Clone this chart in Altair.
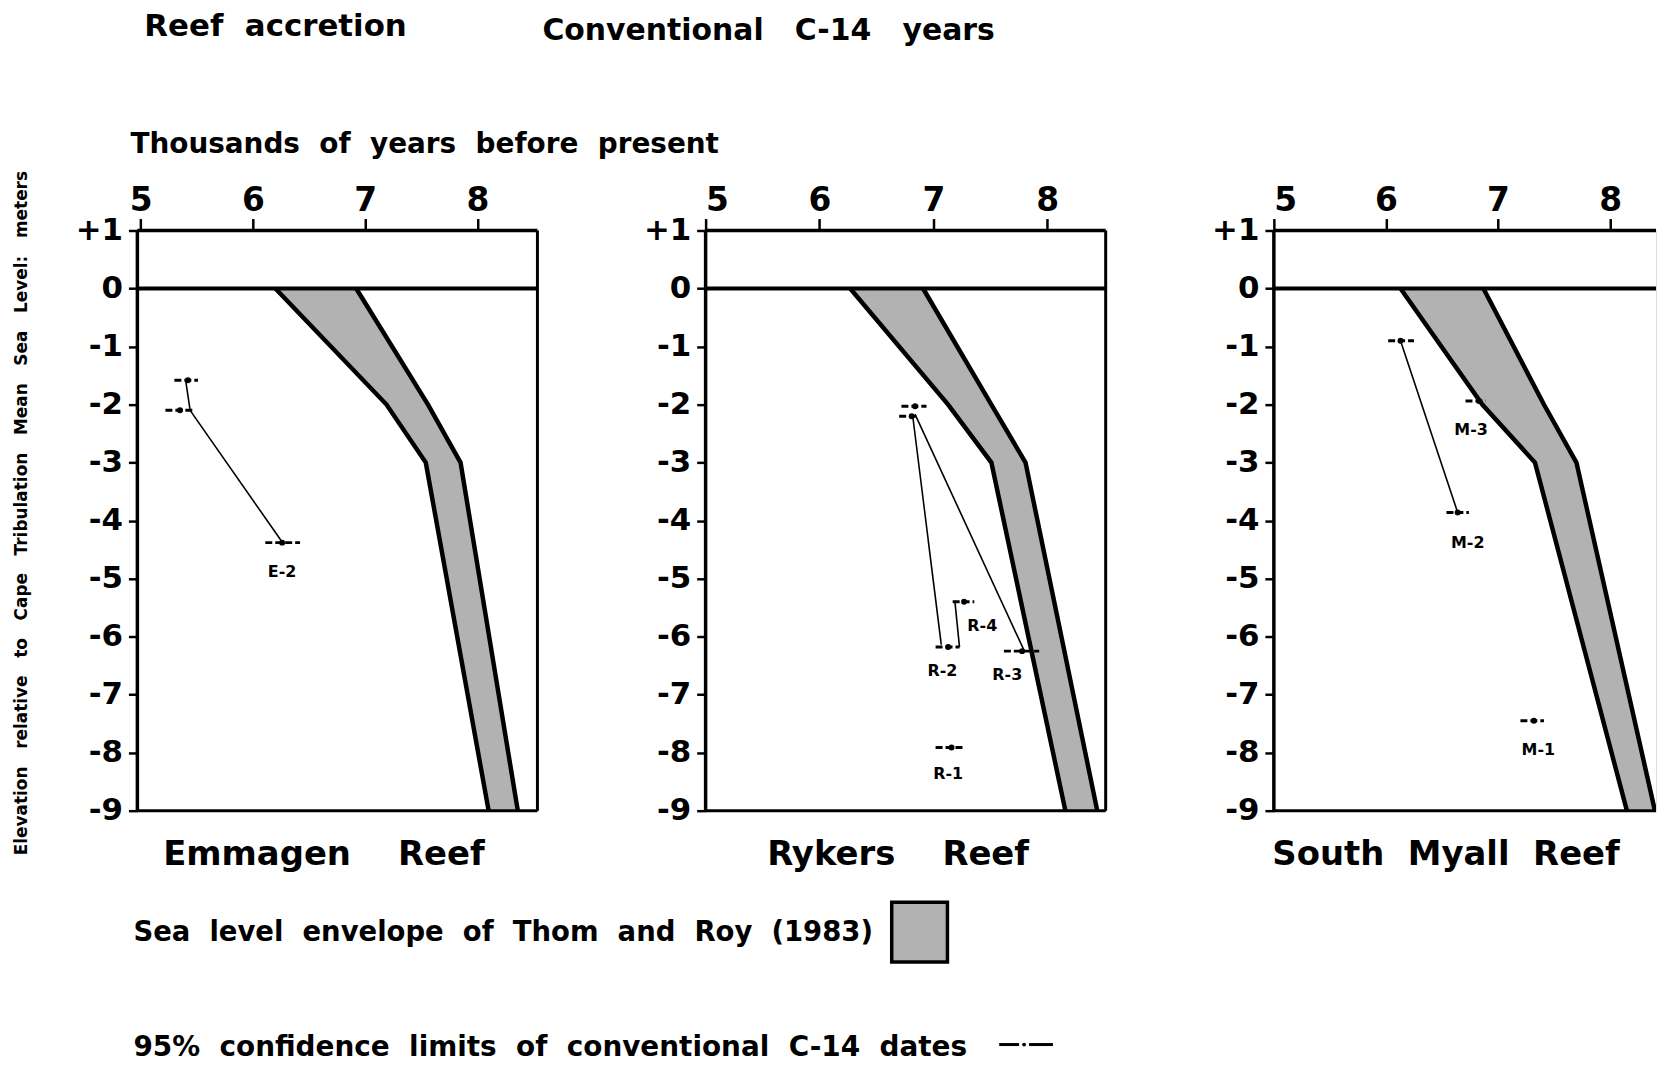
import altair as alt
import pandas as pd

FONT = "DejaVu Sans"
NB = "\u00a0"

# ---------------- data ----------------
x_ticks = [5, 6, 7, 8]
y_ticks = [1, 0, -1, -2, -3, -4, -5, -6, -7, -8, -9]

# Sea level envelope of Thom and Roy (1983), as drawn in each panel
env_depth = [0, -2, -3, -9]
env_left_E = [6.20, 7.19, 7.54, 8.10]
env_right_E = [6.92, 7.56, 7.85, 8.36]
env_left_R = [6.27, 7.13, 7.51, 8.16]
env_right_R = [6.91, 7.51, 7.81, 8.44]
env_left_M = [6.13, 6.86, 7.33, 8.15]
env_right_M = [6.87, 7.41, 7.70, 8.40]

# C-14 dates: 95% limits (lo, hi), central age, elevation (m)
E_lo = [5.30, 5.22, 6.11]
E_hi = [5.51, 5.47, 6.42]
E_mid = [5.42, 5.35, 6.26]
E_elev = [-1.58, -2.10, -4.38]

R_lo = [6.72, 6.70, 7.02, 7.17, 7.62, 7.02]
R_hi = [6.94, 6.86, 7.23, 7.36, 7.93, 7.26]
R_mid = [6.84, 6.81, 7.13, 7.27, 7.78, 7.16]
R_elev = [-2.03, -2.20, -6.18, -5.40, -6.25, -7.91]

M_lo = [6.02, 6.54, 6.71, 7.20]
M_hi = [6.25, 6.74, 6.89, 7.41]
M_mid = [6.13, 6.64, 6.83, 7.32]
M_elev = [-0.90, -3.86, -1.94, -7.45]

# connecting lines (x1, y1, x2, y2)
E_seg_x1 = [5.40, 5.44]
E_seg_y1 = [-1.58, -2.10]
E_seg_x2 = [5.44, 6.26]
E_seg_y2 = [-2.10, -4.37]

R_seg_x1 = [6.82, 7.23, 6.84]
R_seg_y1 = [-2.21, -6.18, -2.17]
R_seg_x2 = [7.07, 7.19, 7.80]
R_seg_y2 = [-6.14, -5.40, -6.25]

M_seg_x1 = [6.13]
M_seg_y1 = [-0.90]
M_seg_x2 = [6.64]
M_seg_y2 = [-3.86]

# sample labels
E_lab = ["E-2"]
E_lab_x = [6.26]
E_lab_y = [-4.89]
R_lab = ["R-2", "R-3", "R-4", "R-1"]
R_lab_x = [7.08, 7.65, 7.43, 7.13]
R_lab_y = [-6.60, -6.67, -5.82, -8.37]
M_lab = ["M-3", "M-2", "M-1"]
M_lab_x = [6.76, 6.73, 7.36]
M_lab_y = [-2.44, -4.39, -7.95]

panel_names = ["Emmagen" + NB * 4 + "Reef", "Rykers" + NB * 4 + "Reef", "South" + NB + " Myall" + NB + " Reef"]

ENV_FILL = "#b2b2b2"
PLOT_H = 583


def one():
    return alt.Data(values=[{"k": 1}])


def text_mark(txt, x, y, size, align="left", angle=0, baseline="alphabetic"):
    props = dict(text=txt, font=FONT, fontWeight="bold", fontSize=size, align=align,
                 baseline=baseline, color="black")
    if angle:
        props["angle"] = angle
    return alt.Chart(one()).mark_text(**props).encode(x=alt.value(x), y=alt.value(y))


def panel(env_l, env_r, lo, hi, mid, elev, sx1, sy1, sx2, sy2, lab, labx, laby,
          xdom, width, name, name_x, right_border=True, extra=None):
    xs = alt.Scale(domain=xdom, nice=False, zero=False)
    ys = alt.Scale(domain=[-9, 1], nice=False, zero=False)
    xaxis = alt.Axis(orient="top", values=x_ticks, tickSize=12, tickWidth=2.5, tickColor="black",
                     labelFontSize=33, labelFont=FONT, labelFontWeight="bold", labelColor="black",
                     labelPadding=1, domain=False, grid=False, title=None)
    yaxis = alt.Axis(values=y_ticks,
                     labelExpr="datum.value > 0 ? '+' + datum.value : (datum.value < 0 ? '-' + abs(datum.value) : '0')",
                     tickSize=9, tickWidth=2.5, tickColor="black", labelFontSize=31, labelFont=FONT,
                     labelFontWeight="bold", labelColor="black", labelPadding=6, domain=False,
                     grid=False, title=None)

    def X(field, **kw):
        return alt.X(field, scale=xs, axis=xaxis, **kw)

    def Y(field, **kw):
        return alt.Y(field, scale=ys, axis=yaxis, **kw)

    env = pd.DataFrame({"depth": env_depth, "xl": env_l, "xr": env_r})
    area = alt.Chart(env).mark_area(orient="horizontal", color=ENV_FILL, clip=True).encode(
        y=Y("depth:Q"), x=X("xl:Q"), x2="xr:Q")
    edge_l = alt.Chart(env).mark_line(color="black", strokeWidth=4.5, clip=True).encode(
        x=X("xl:Q"), y=Y("depth:Q"), order=alt.Order("depth:Q"))
    edge_r = alt.Chart(env).mark_line(color="black", strokeWidth=4.5, clip=True).encode(
        x=X("xr:Q"), y=Y("depth:Q"), order=alt.Order("depth:Q"))

    frame = [
        alt.Chart(one()).mark_rule(color="black", strokeWidth=3.5).encode(y=alt.Y(datum=1, scale=ys, axis=yaxis)),
        alt.Chart(one()).mark_rule(color="black", strokeWidth=4).encode(y=alt.Y(datum=0, scale=ys, axis=yaxis)),
        alt.Chart(one()).mark_rule(color="black", strokeWidth=3).encode(y=alt.Y(datum=-9, scale=ys, axis=yaxis)),
        alt.Chart(one()).mark_rule(color="black", strokeWidth=3.5).encode(
            x=alt.X(datum=xdom[0], scale=xs, axis=xaxis)),
    ]
    if right_border:
        frame.append(alt.Chart(one()).mark_rule(color="black", strokeWidth=3).encode(
            x=alt.X(datum=xdom[1], scale=xs, axis=xaxis)))

    bars_df = pd.DataFrame({"lo": lo, "hi": hi, "mid": mid, "elev": elev})
    bars = alt.Chart(bars_df).mark_rule(color="black", strokeWidth=3, strokeDash=[7, 3]).encode(
        x=X("lo:Q"), x2="hi:Q", y=Y("elev:Q"))
    dots = alt.Chart(bars_df).mark_circle(color="black", size=36, opacity=1).encode(
        x=X("mid:Q"), y=Y("elev:Q"))

    seg_df = pd.DataFrame({"x1": sx1, "y1": sy1, "x2": sx2, "y2": sy2})
    segs = alt.Chart(seg_df).mark_rule(color="black", strokeWidth=1.6).encode(
        x=X("x1:Q"), y=Y("y1:Q"), x2="x2:Q", y2="y2:Q")

    lab_df = pd.DataFrame({"t": lab, "x": labx, "y": laby})
    labs = alt.Chart(lab_df).mark_text(font=FONT, fontWeight="bold", fontSize=16, color="black",
                                       align="center", baseline="middle").encode(
        x=X("x:Q"), y=Y("y:Q"), text="t:N")

    title = text_mark(name, name_x, 638, 34, align="center")

    layers = [area, edge_l, edge_r] + frame + [segs, bars, dots, labs, title]
    if extra:
        layers += extra
    return alt.layer(*layers).properties(width=width, height=PLOT_H)


# loose annotations, placed relative to the first panel's plot area
extra1 = [
    text_mark("Reef" + NB * 2 + "accretion", 7, -195, 31),
    text_mark("Conventional" + NB * 3 + "C-14" + NB * 3 + "years", 407, -191, 30),
    text_mark(NB.join(["Thousands", " of", " years", " before", " present"]), -7, -78, 28),
    text_mark((NB * 3).join(["Elevation", "relative", "to", "Cape", "Tribulation", "Mean", "Sea",
                             "Level:", "meters"]), -116, 284, 17, align="center", angle=270,
              baseline="middle"),
    text_mark((NB * 2).join(["Sea", "level", "envelope", "of", "Thom", "and", "Roy", "(1983)"]), -4, 714, 27.6),
    text_mark((NB * 2).join(["95%", "confidence", "limits", "of", "conventional", "C-14", "dates"]), -4, 830, 28),
    alt.Chart(one()).mark_rect(color=ENV_FILL, stroke="black", strokeWidth=3.5).encode(
        x=alt.value(758), x2=alt.value(814), y=alt.value(675), y2=alt.value(735)),
    alt.Chart(one()).mark_rule(color="black", strokeWidth=3).encode(
        x=alt.value(866), x2=alt.value(886), y=alt.value(818)),
    alt.Chart(one()).mark_rule(color="black", strokeWidth=3).encode(
        x=alt.value(896), x2=alt.value(920), y=alt.value(818)),
    alt.Chart(one()).mark_circle(color="black", size=14, opacity=1).encode(
        x=alt.value(891), y=alt.value(818)),
]

p1 = panel(env_left_E, env_right_E, E_lo, E_hi, E_mid, E_elev, E_seg_x1, E_seg_y1, E_seg_x2, E_seg_y2,
           E_lab, E_lab_x, E_lab_y, [4.97, 8.535], 402, panel_names[0], 187.5, extra=extra1)
p2 = panel(env_left_R, env_right_R, R_lo, R_hi, R_mid, R_elev, R_seg_x1, R_seg_y1, R_seg_x2, R_seg_y2,
           R_lab, R_lab_x, R_lab_y, [5.0, 8.514], 402, panel_names[1], 193.5)
p3 = panel(env_left_M, env_right_M, M_lo, M_hi, M_mid, M_elev, M_seg_x1, M_seg_y1, M_seg_x2, M_seg_y2,
           M_lab, M_lab_x, M_lab_y, [5.0, 8.41], 384, panel_names[2], 173, right_border=False)

chart = alt.hconcat(p1, p2, p3, spacing=169, bounds="flush").properties(
    padding={"left": 4, "top": 0, "right": 0, "bottom": 2}
).configure_view(strokeWidth=0).configure(background="white")

chart.save("out.html", embed_options={"renderer": "svg", "actions": False})
